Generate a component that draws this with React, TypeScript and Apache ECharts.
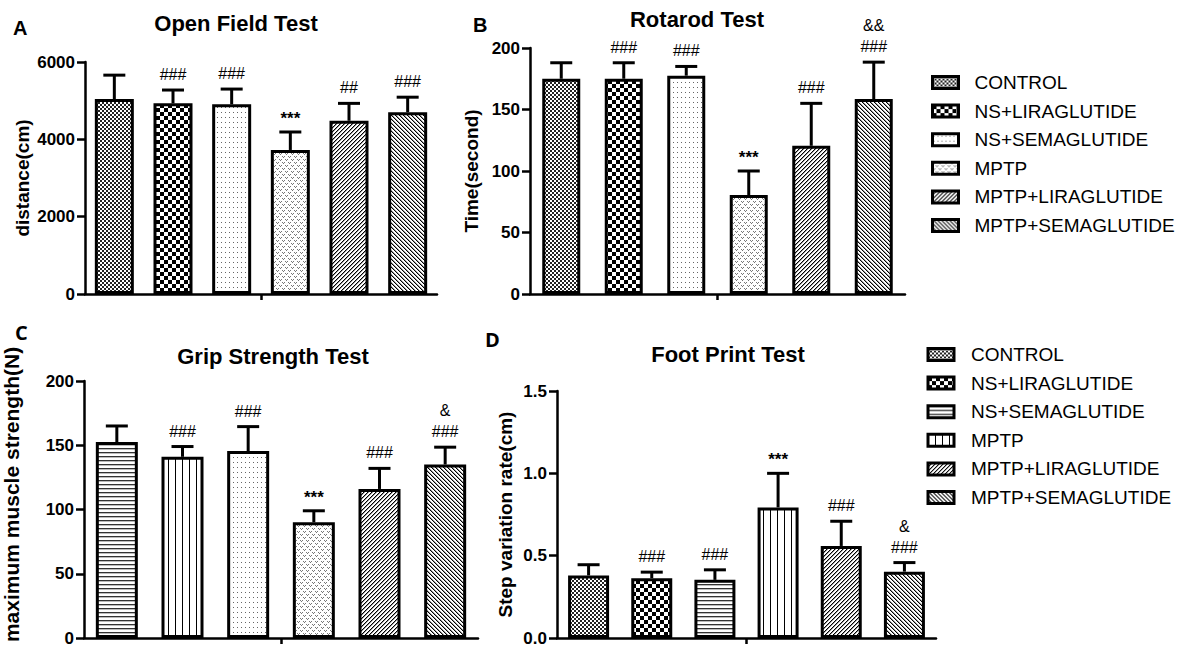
import React, { useEffect, useRef } from 'react';
import * as echarts from 'echarts';

const groups = ['CONTROL', 'NS+LIRAGLUTIDE', 'NS+SEMAGLUTIDE', 'MPTP', 'MPTP+LIRAGLUTIDE', 'MPTP+SEMAGLUTIDE'];

const openFieldMean = [5040, 4930, 4905, 3725, 4480, 4700];
const openFieldSD = [620, 345, 395, 465, 450, 390];
const openFieldMarks = ['', '###', '###', '***', '##', '###'];

const rotarodMean = [175, 175, 177.5, 80.5, 120.5, 158.5];
const rotarodSD = [13, 13, 7.5, 19.5, 34.5, 30];
const rotarodMarks = ['', '###', '###', '***', '###', '&&\n###'];

const gripMean = [152.5, 141, 145.5, 90, 116, 135];
const gripSD = [12.5, 8, 19, 9, 16, 13.5];
const gripMarks = ['', '###', '###', '***', '###', '&\n###'];

const footMean = [0.38, 0.363, 0.353, 0.793, 0.559, 0.403];
const footSD = [0.065, 0.037, 0.061, 0.207, 0.15, 0.055];
const footMarks = ['', '###', '###', '***', '###', '&\n###'];

const yMax = [6000, 200, 200, 1.5];
const yStep = [2000, 50, 50, 0.5];
const yDecimals = [0, 0, 0, 1];
const titles = ['Open Field Test', 'Rotarod Test', 'Grip Strength Test', 'Foot Print Test'];
const yNames = ['distance(cm)', 'Time(second)', 'maximum muscle strength(N)', 'Step variation rate(cm)'];
const letters = ['A', 'B', 'C', 'D'];

const FONT = '"Liberation Sans", Arial, sans-serif';

function tile(w: number, h: number, draw: (ctx: CanvasRenderingContext2D) => void) {
  const c = document.createElement('canvas');
  c.width = w;
  c.height = h;
  const ctx = c.getContext('2d')!;
  ctx.fillStyle = '#fff';
  ctx.fillRect(0, 0, w, h);
  draw(ctx);
  return { image: c, repeat: 'repeat', imageWidth: w, imageHeight: h } as any;
}

function makePatterns() {
  const fineCheck = tile(4, 4, (ctx) => {
    ctx.fillStyle = '#222';
    ctx.fillRect(0, 0, 2, 2);
    ctx.fillRect(2, 2, 2, 2);
  });
  const boldCheck = tile(8, 8, (ctx) => {
    ctx.fillStyle = '#000';
    ctx.fillRect(0, 0, 4, 4);
    ctx.fillRect(4, 4, 4, 4);
  });
  const sparseDots = tile(4, 5, (ctx) => {
    ctx.fillStyle = '#666';
    ctx.fillRect(1, 2, 1, 1);
  });
  const weave = tile(6, 6, (ctx) => {
    ctx.fillStyle = '#777';
    [[0, 0], [2, 0], [1, 1], [3, 3], [5, 3], [4, 4]].forEach(([x, y]) => ctx.fillRect(x, y, 1, 1));
  });
  const diagUp = tile(4, 4, (ctx) => {
    for (let y = 0; y < 4; y++) {
      ctx.fillStyle = '#000';
      ctx.fillRect((3 - y + 4) % 4, y, 1, 1);
      ctx.fillStyle = '#999';
      ctx.fillRect((4 - y) % 4, y, 1, 1);
    }
  });
  const diagDown = tile(4, 4, (ctx) => {
    for (let y = 0; y < 4; y++) {
      ctx.fillStyle = '#000';
      ctx.fillRect(y % 4, y, 1, 1);
      ctx.fillStyle = '#999';
      ctx.fillRect((y + 1) % 4, y, 1, 1);
    }
  });
  const hLines = tile(4, 4, (ctx) => {
    ctx.fillStyle = '#333';
    ctx.fillRect(0, 0, 4, 1);
    ctx.fillStyle = '#bbb';
    ctx.fillRect(0, 1, 4, 1);
  });
  const vLines = tile(7, 4, (ctx) => {
    ctx.fillStyle = '#000';
    ctx.fillRect(0, 0, 1, 4);
  });
  return {
    ab: [fineCheck, boldCheck, sparseDots, weave, diagUp, diagDown],
    c: [hLines, vLines, sparseDots, weave, diagUp, diagDown],
    d: [fineCheck, boldCheck, hLines, vLines, diagUp, diagDown],
  };
}

export default function App() {
  const ref = useRef<HTMLDivElement>(null);
  useEffect(() => {
    if (!ref.current) return;
    const chart = echarts.init(ref.current, undefined, { renderer: 'svg' });
    const pats = makePatterns();

    const panels = [
      { mean: openFieldMean, sd: openFieldSD, marks: openFieldMarks, pats: pats.ab, barWidth: 39,
        grid: { left: 85, right: 750, top: 62, bottom: 363 }, nameGap: 53, nameSize: 19, namePad: [0, 0, 0, 0] },
      { mean: rotarodMean, sd: rotarodSD, marks: rotarodMarks, pats: pats.ab, barWidth: 38,
        grid: { left: 530, right: 282, top: 48, bottom: 363 }, nameGap: 49, nameSize: 19, namePad: [0, 0, 0, 0] },
      { mean: gripMean, sd: gripSD, marks: gripMarks, pats: pats.c, barWidth: 42,
        grid: { left: 83, right: 709, top: 381, bottom: 19 }, nameGap: 62, nameSize: 21, namePad: [0, 0, 0, 30] },
      { mean: footMean, sd: footSD, marks: footMarks, pats: pats.d, barWidth: 41,
        grid: { left: 557, right: 251, top: 391, bottom: 19 }, nameGap: 42, nameSize: 19, namePad: [0, 0, 0, 0] },
    ];

    const grids: any[] = [];
    const xAxes: any[] = [];
    const yAxes: any[] = [];
    const series: any[] = [];

    panels.forEach((p, pi) => {
      grids.push({ ...p.grid, containLabel: false });
      xAxes.push({
        gridIndex: pi, type: 'category', data: groups, boundaryGap: true,
        axisLine: { show: true, lineStyle: { color: '#000', width: 2.5 } },
        axisTick: { show: false }, axisLabel: { show: false }, splitLine: { show: false },
      });
      xAxes.push({
        gridIndex: pi, type: 'value', min: 0, max: 1, position: 'bottom',
        axisLine: { show: false }, axisLabel: { show: false }, splitLine: { show: false },
        axisTick: { show: true, length: 6, customValues: [0.5], lineStyle: { color: '#000', width: 2.5 } },
      });
      const dec = yDecimals[pi];
      yAxes.push({
        gridIndex: pi, type: 'value', min: 0, max: yMax[pi], interval: yStep[pi],
        name: yNames[pi], nameLocation: 'middle', nameGap: p.nameGap,
        nameTextStyle: { fontSize: p.nameSize, fontWeight: 'bold', color: '#000', fontFamily: FONT, padding: p.namePad },
        axisLine: { show: true, lineStyle: { color: '#000', width: 2.5 } },
        axisTick: { show: true, length: 8, lineStyle: { color: '#000', width: 2.5 } },
        axisLabel: {
          fontSize: 17, fontWeight: 'bold', color: '#000', fontFamily: FONT, margin: 10,
          formatter: (v: number) => v.toFixed(dec),
        },
        splitLine: { show: false },
      });
      groups.forEach((g, gi) => {
        series.push({
          type: 'bar', name: g, xAxisIndex: pi * 2, yAxisIndex: pi,
          data: p.mean.map((v, j) => (j === gi ? v : '-')),
          barWidth: p.barWidth, barGap: '-100%',
          itemStyle: { color: p.pats[gi], borderColor: '#000', borderWidth: 3 },
          emphasis: { disabled: true },
        });
      });
      const marks = p.marks;
      series.push({
        type: 'custom', xAxisIndex: pi * 2, yAxisIndex: pi, z: 5,
        data: p.mean.map((m, i) => [i, m, m + p.sd[i]]),
        encode: { x: 0, y: [1, 2] },
        renderItem: (params: any, api: any) => {
          const i = api.value(0);
          const base = api.coord([i, api.value(1)]);
          const top = api.coord([i, api.value(2)]);
          const mark = marks[params.dataIndex];
          const star = mark.indexOf('*') >= 0;
          const half = 11;
          return {
            type: 'group',
            children: [
              { type: 'line', shape: { x1: base[0], y1: base[1], x2: base[0], y2: top[1] }, style: { stroke: '#000', lineWidth: 3 } },
              { type: 'line', shape: { x1: base[0] - half, y1: top[1], x2: base[0] + half, y2: top[1] }, style: { stroke: '#000', lineWidth: 3 } },
              {
                type: 'text', x: base[0], y: top[1] - (star ? 3 : 5),
                style: {
                  text: mark, fill: '#000', align: 'center', verticalAlign: 'bottom',
                  fontSize: star ? 17 : 16, fontWeight: star ? 'bold' : 'normal', fontFamily: FONT, lineHeight: 21,
                },
              },
            ],
          };
        },
      });
    });

    const legendBase = {
      orient: 'vertical', icon: 'rect', itemWidth: 26, itemHeight: 12, itemGap: 9.6, padding: 0,
      selectedMode: false,
      itemStyle: { borderColor: '#000', borderWidth: 3 },
    };

    const titleItems: any[] = [];
    const titlePos = [[236, 23], [697, 19], [273, 356], [728, 354]];
    titles.forEach((t, i) => {
      titleItems.push({
        text: t, left: titlePos[i][0], top: titlePos[i][1], textAlign: 'center', textVerticalAlign: 'middle', padding: 0,
        textStyle: { fontSize: 22, fontWeight: 'bold', color: '#000', fontFamily: FONT },
      });
    });
    const letterPos = [[13, 28], [473, 25], [15, 332], [485, 339]];
    letters.forEach((l, i) => {
      titleItems.push({
        text: l, left: letterPos[i][0], top: letterPos[i][1], textAlign: 'left', textVerticalAlign: 'middle', padding: 0,
        textStyle: { fontSize: 20, fontWeight: 'bold', color: '#000', fontFamily: i < 2 ? FONT : '"Open Sans", sans-serif' },
      });
    });

    chart.setOption({
      animation: false,
      backgroundColor: '#fff',
      textStyle: { fontFamily: FONT },
      title: titleItems,
      grid: grids,
      xAxis: xAxes,
      yAxis: yAxes,
      legend: [
        {
          ...legendBase, left: 931, top: 73,
          textStyle: { fontSize: 19, color: '#000', fontFamily: FONT, lineHeight: 16, padding: [0, 0, 0, 11] },
          data: groups.map((g, i) => ({ name: g, itemStyle: { color: pats.ab[i], borderColor: '#000', borderWidth: 3 } })),
        },
        {
          ...legendBase, left: 926.5, top: 345,
          textStyle: { fontSize: 19, color: '#000', fontFamily: FONT, lineHeight: 16, padding: [0, 0, 0, 12] },
          data: groups.map((g, i) => ({ name: g, itemStyle: { color: pats.d[i], borderColor: '#000', borderWidth: 3 } })),
        },
      ],
      series,
    });
    return () => chart.dispose();
  }, []);
  return <div ref={ref} style={{ position: 'fixed', left: 0, top: 0, width: 1187, height: 657, background: '#fff' }} />;
}
